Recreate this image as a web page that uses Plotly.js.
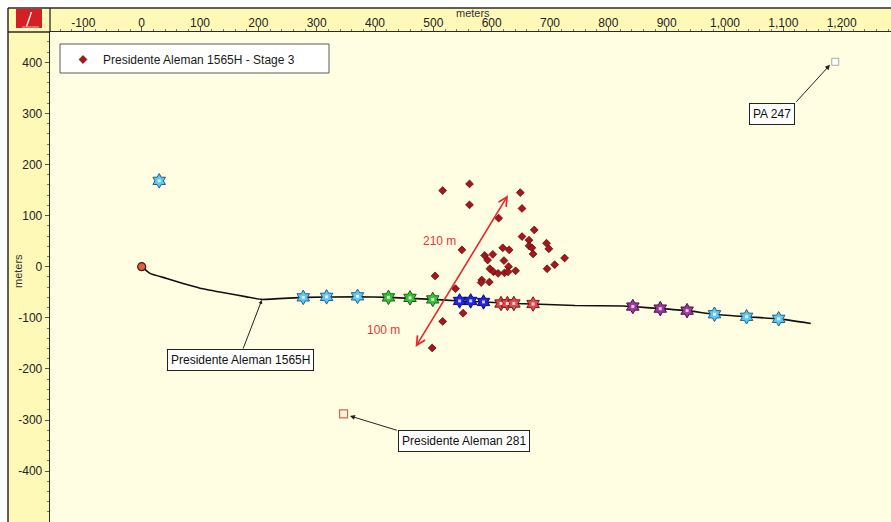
<!DOCTYPE html>
<html>
<head>
<meta charset="utf-8">
<script src="https://cdn.plot.ly/plotly-3.0.1.min.js"></script>
<style>
  html, body { margin: 0; padding: 0; background: #ffffff; }
  #chart { width: 891px; height: 522px; }
</style>
</head>
<body>
<div id="chart"></div>
<script>
// Axis tick labels (metres)
const xTickVals = [-100, 0, 100, 200, 300, 400, 500, 600, 700, 800, 900, 1000, 1100, 1200];
const xTickText = ['-100', '0', '100', '200', '300', '400', '500', '600', '700', '800', '900', '1,000', '1,100', '1,200'];
const yTickVals = [-400, -300, -200, -100, 0, 100, 200, 300, 400];
const yTickText = ['-400', '-300', '-200', '-100', '0', '100', '200', '300', '400'];

// Stage 3 microseismic events (easting, northing in metres)
const eventX = [516, 562, 562, 649, 652, 612, 673, 652, 664, 694, 549, 619, 630, 664, 669, 698,
                588, 602, 593, 621, 671, 725, 597, 629, 708, 695, 603, 611, 622, 628, 641,
                583, 582, 596, 503, 538, 551, 516, 498];
const eventY = [149, 162, 121, 145, 114, 95, 72, 59, 52, 46, 33, 37, 33, 41, 37, 35,
                22, 24, 13, 12, 25, 17, -4, 0, 4, -4, -10, -13, -12, -10, -8,
                -26, -31, -30, -18, -43, -91, -107, -159];

// Wellbore trajectory, Presidente Aleman 1565H
const wellX = [0, 14, 43, 71, 100, 146, 180, 206, 277, 370, 423, 499, 545, 586, 638, 671,
               743, 825, 842, 889, 935, 982, 1037, 1092, 1147];
const wellY = [0, -13, -23, -33, -42, -52, -59, -64, -60, -59, -60, -64, -67, -69, -72, -73,
               -76, -77, -78, -82, -86, -93, -98, -102, -111];

// Perforation clusters by stage
const stage1X = [982, 1037, 1092];
const stage1Y = [-93, -98, -102];
const stage2X = [842, 889, 935];
const stage2Y = [-78, -82, -86];
const stage3X = [616, 627, 638, 671];
const stage3Y = [-72, -72, -72, -73];
const stage4X = [545, 564, 586];
const stage4Y = [-67, -67, -69];
const stage5X = [423, 460, 499];
const stage5Y = [-60, -61, -64];
const stage6X = [277, 317, 370];
const stage6Y = [-60, -59, -58];
const refShotX = [30];
const refShotY = [168];

// Offset wells
const pa247X = [1189];
const pa247Y = [401];
const pa281X = [346];
const pa281Y = [-288];

// pixel -> paper helpers for frame decorations
const W = 891, H = 522, L = 50, T = 32;
const PW = W - L, PH = H - T;
const px = p => (p - L) / PW;
const py = q => (H - q) / PH;

const FONT = 'Liberation Sans, Arial, sans-serif';

function perfTraces(xs, ys, fill, edge) {
  return [
    { x: xs, y: ys, type: 'scatter', mode: 'markers', showlegend: false, hoverinfo: 'skip',
      marker: { symbol: 'hexagram', size: 11, color: fill, line: { color: edge, width: 1 } } },
    { x: xs, y: ys, type: 'scatter', mode: 'markers', showlegend: false, hoverinfo: 'skip',
      marker: { symbol: 'square', size: 3, color: 'rgba(255,255,255,0.75)', line: { width: 0 } } }
  ];
}

const traces = [
  { x: wellX, y: wellY, type: 'scatter', mode: 'lines', showlegend: false, hoverinfo: 'skip',
    line: { color: '#111111', width: 1.6, shape: 'spline', smoothing: 0.4 } },
  ...perfTraces(stage6X, stage6Y, '#62c6ee', '#1f5f8c'),
  ...perfTraces(refShotX, refShotY, '#62c6ee', '#1f5f8c'),
  ...perfTraces(stage5X, stage5Y, '#3cbf3c', '#1b5e1b'),
  ...perfTraces(stage4X, stage4Y, '#2424e0', '#0c0c70'),
  ...perfTraces(stage3X, stage3Y, '#e04a4a', '#7a1515'),
  ...perfTraces(stage2X, stage2Y, '#9a3a9a', '#4a0e4a'),
  ...perfTraces(stage1X, stage1Y, '#62c6ee', '#1f5f8c'),
  { x: [wellX[0]], y: [wellY[0]], type: 'scatter', mode: 'markers', showlegend: false, hoverinfo: 'skip',
    marker: { symbol: 'circle', size: 8, color: '#e0603e', line: { color: '#4a1a0a', width: 1.2 } } },
  { x: pa247X, y: pa247Y, type: 'scatter', mode: 'markers', showlegend: false, hoverinfo: 'skip',
    marker: { symbol: 'square', size: 7, color: '#ffffff', line: { color: '#a8a8a8', width: 1 } } },
  { x: pa281X, y: pa281Y, type: 'scatter', mode: 'markers', showlegend: false, hoverinfo: 'skip',
    marker: { symbol: 'square', size: 8, color: '#fff3e4', line: { color: '#d06a48', width: 1.2 } } },
  { x: eventX, y: eventY, type: 'scatter', mode: 'markers', name: 'Presidente Aleman 1565H - Stage 3',
    hoverinfo: 'x+y',
    marker: { symbol: 'diamond', size: 6, color: '#a8161c', line: { color: '#5a0a0c', width: 0.8 } } }
];

const strip = '#fff9b8';
const frame = '#2b2b2b';

const shapes = [
  // white outer margin
  { type: 'rect', xref: 'paper', yref: 'paper', x0: px(0), x1: px(W), y0: py(8), y1: py(0),
    fillcolor: '#ffffff', line: { width: 0 }, layer: 'above' },
  { type: 'rect', xref: 'paper', yref: 'paper', x0: px(0), x1: px(8), y0: py(H), y1: py(0),
    fillcolor: '#ffffff', line: { width: 0 }, layer: 'above' },
  // outer frame
  { type: 'line', xref: 'paper', yref: 'paper', x0: px(8), x1: px(W), y0: py(8), y1: py(8),
    line: { color: frame, width: 1.5 }, layer: 'above' },
  { type: 'line', xref: 'paper', yref: 'paper', x0: px(8), x1: px(8), y0: py(8), y1: py(H),
    line: { color: frame, width: 1.5 }, layer: 'above' },
  // corner dividers
  { type: 'line', xref: 'paper', yref: 'paper', x0: px(8), x1: px(L), y0: py(T), y1: py(T),
    line: { color: frame, width: 1.3 }, layer: 'above' },
  { type: 'line', xref: 'paper', yref: 'paper', x0: px(L), x1: px(L), y0: py(8), y1: py(T),
    line: { color: frame, width: 1.3 }, layer: 'above' },
  // corner logo
  { type: 'rect', xref: 'paper', yref: 'paper', x0: px(16), x1: px(42), y0: py(28), y1: py(9),
    fillcolor: '#d41f24', line: { width: 0 }, layer: 'above' },
  { type: 'line', xref: 'paper', yref: 'paper', x0: px(26.5), x1: px(31.5), y0: py(26.5), y1: py(12),
    line: { color: '#ffffff', width: 1.3 }, layer: 'above' },
  { type: 'line', xref: 'paper', yref: 'paper', x0: px(22), x1: px(39), y0: py(27), y1: py(27),
    line: { color: '#f4b0b0', width: 1 }, layer: 'above' },
  // legend box
  { type: 'rect', xref: 'paper', yref: 'paper', x0: px(60), x1: px(329), y0: py(73), y1: py(44),
    fillcolor: '#ffffff', line: { color: '#5a5a5a', width: 1 }, layer: 'above' }
];

const labelBox = { font: { family: FONT, size: 12, color: '#111111' }, bgcolor: '#ffffff',
  bordercolor: '#222222', borderwidth: 1, borderpad: 3, showarrow: false, xref: 'x', yref: 'y',
  xanchor: 'center', yanchor: 'middle' };

const annotations = [
  // axis titles
  { text: 'meters', xref: 'paper', yref: 'paper', x: px(473), y: py(12.5), showarrow: false,
    xanchor: 'center', yanchor: 'middle',
    font: { family: FONT, size: 11, color: '#333333' } },
  { text: 'meters', xref: 'paper', yref: 'paper', x: px(18), y: py(271), showarrow: false, textangle: -90,
    xanchor: 'center', yanchor: 'middle',
    font: { family: FONT, size: 11, color: '#333333' } },
  // well labels
  Object.assign({ text: 'Presidente Aleman 1565H', x: 170, y: -183 }, labelBox),
  Object.assign({ text: 'Presidente Aleman 281', x: 553, y: -341 }, labelBox),
  Object.assign({ text: 'PA 247', x: 1080, y: 298 }, labelBox),
  // label leaders
  { text: '', x: 206, y: -65, ax: 173, ay: -163, axref: 'x', ayref: 'y', xref: 'x', yref: 'y',
    showarrow: true, arrowhead: 2, arrowsize: 0.8, arrowwidth: 1, arrowcolor: '#222222' },
  { text: '', x: 357, y: -292, ax: 440, ay: -321, axref: 'x', ayref: 'y', xref: 'x', yref: 'y',
    showarrow: true, arrowhead: 2, arrowsize: 1, arrowwidth: 1, arrowcolor: '#222222' },
  { text: '', x: 1180, y: 395, ax: 1120, ay: 320, axref: 'x', ayref: 'y', xref: 'x', yref: 'y',
    showarrow: true, arrowhead: 2, arrowsize: 1, arrowwidth: 1, arrowcolor: '#222222' },
  // fracture extent
  { text: '', x: 628, y: 140, ax: 468, ay: -160, axref: 'x', ayref: 'y', xref: 'x', yref: 'y',
    showarrow: true, arrowhead: 5, startarrowhead: 5, arrowside: 'end+start',
    arrowsize: 1.1, startarrowsize: 1.1, arrowwidth: 1.6, arrowcolor: '#e8262a' },
  { text: '210 m', x: 511, y: 50, showarrow: false, xref: 'x', yref: 'y',
    font: { family: FONT, size: 12, color: '#e0393b' } },
  { text: '100 m', x: 415, y: -124, showarrow: false, xref: 'x', yref: 'y',
    font: { family: FONT, size: 12, color: '#e0393b' } }
];

const layout = {
  width: W, height: H,
  margin: { l: L, r: 0, t: T, b: 0, pad: 0 },
  paper_bgcolor: strip,
  plot_bgcolor: '#fffee2',
  font: { family: FONT, size: 12, color: '#222222' },
  showlegend: true,
  legend: { x: px(63), y: py(45), xanchor: 'left', yanchor: 'top', bgcolor: 'rgba(0,0,0,0)',
    borderwidth: 0, font: { family: FONT, size: 12, color: '#1a1a1a' } },
  xaxis: {
    side: 'top', range: [-157.2, 1284.6], automargin: false,
    tickmode: 'array', tickvals: xTickVals, ticktext: xTickText,
    ticks: 'outside', ticklen: 4, tickcolor: '#555555', tickwidth: 1, ticklabelstandoff: -5,
    minor: { tickmode: 'linear', tick0: 0, dtick: 20, ticks: 'outside', ticklen: 2, tickcolor: '#777777' },
    tickfont: { family: FONT, size: 12, color: '#222222' },
    showgrid: false, zeroline: false, showline: true, linecolor: frame, linewidth: 1.3
  },
  yaxis: {
    range: [-499.6, 459.3], automargin: false,
    tickmode: 'array', tickvals: yTickVals, ticktext: yTickText,
    ticks: 'outside', ticklen: 4, tickcolor: '#555555', tickwidth: 1,
    minor: { tickmode: 'linear', tick0: 0, dtick: 20, ticks: 'outside', ticklen: 2, tickcolor: '#777777' },
    tickfont: { family: FONT, size: 12, color: '#222222' },
    showgrid: false, zeroline: false, showline: true, linecolor: frame, linewidth: 1.3
  },
  shapes: shapes,
  annotations: annotations
};

Plotly.newPlot('chart', traces, layout, { staticPlot: true, displayModeBar: false });
</script>
</body>
</html>
